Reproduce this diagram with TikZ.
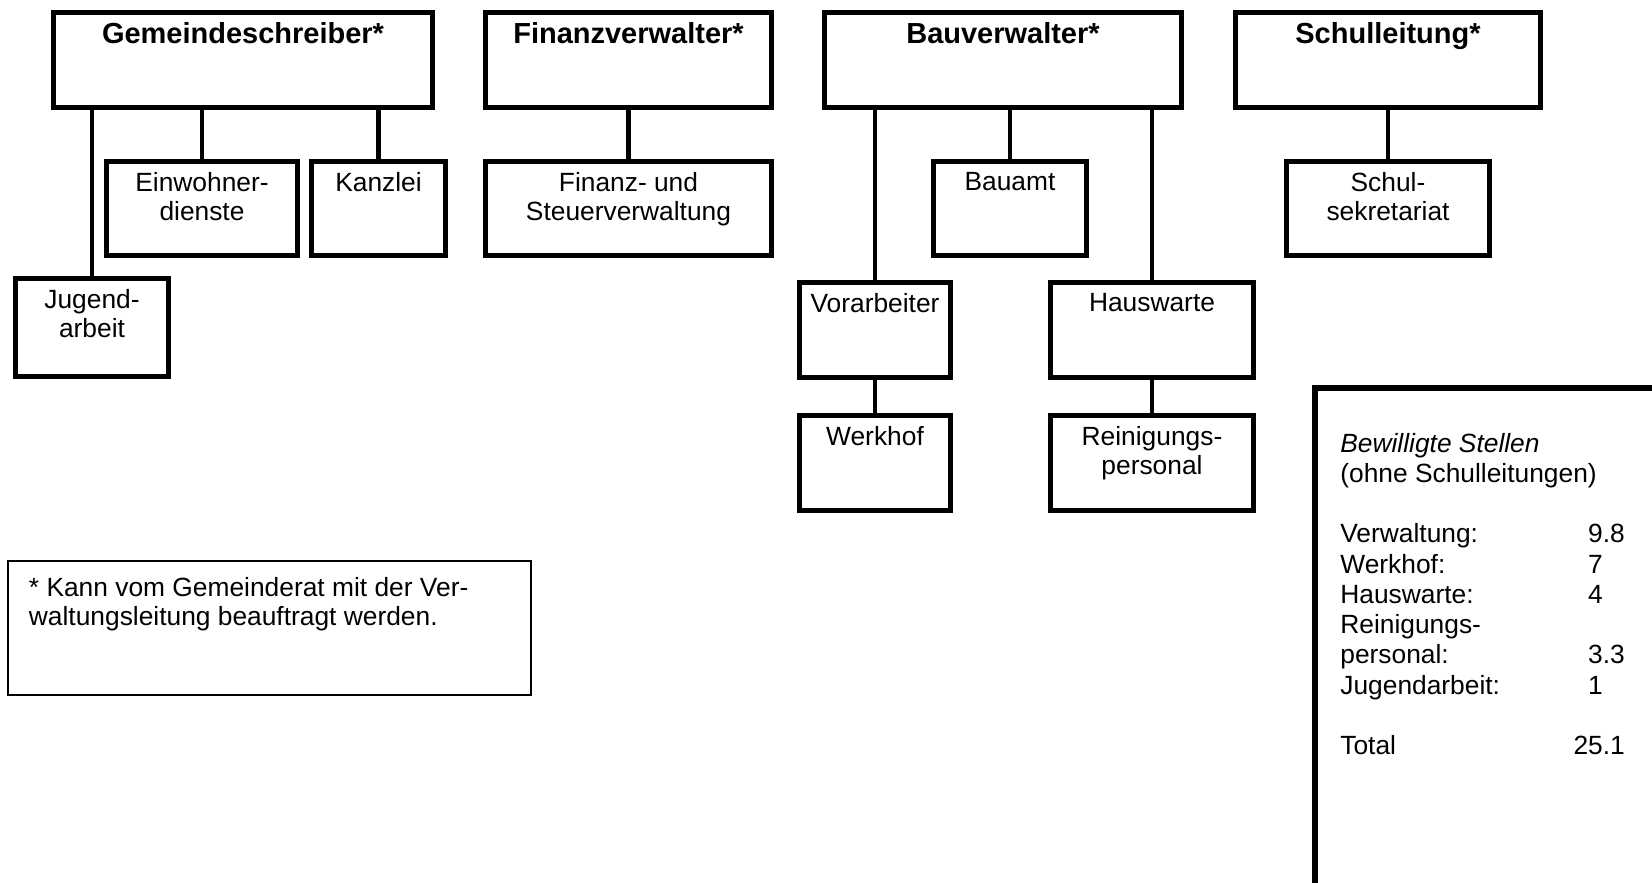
\documentclass[tikz,border=0pt]{standalone}
\usepackage{fontspec}
\setmainfont{Liberation Sans}
\usepackage{tikz}
\newcommand{\boxfont}{\fontsize{15pt}{16.5pt}\selectfont}
\newcommand{\headfont}{\fontsize{16.5pt}{19pt}\selectfont\bfseries}
\newcommand{\listfont}{\fontsize{15pt}{17.2pt}\selectfont}
\newcommand{\lw}{2.8pt}

\begin{document}
\begin{tikzpicture}[x=0.02cm, y=-0.02cm,
  orgbox/.style 2 args={draw, line width=\lw, rectangle, anchor=north west,
    inner sep=0pt, minimum width={#1*0.02cm-\lw}, minimum height={#2*0.02cm-\lw}},
  head/.style={label={[anchor=north, inner sep=0pt, font=\headfont,
    yshift=-0.236cm]north:#1}},
  unit/.style={label={[anchor=north, align=center, inner sep=0pt, font=\boxfont,
    yshift=-0.266cm]north:#1}},
  link/.style={line width=\lw}]
\useasboundingbox (0,0) rectangle (1652,882);
\fill[white] (0,0) rectangle (1652,882);
\clip (0,0) rectangle (1652,882);

% --- Top row: heads ---
\node[orgbox={384}{100}, head=Gemeindeschreiber*] (gs) at (51,10) {};
\node[orgbox={291}{100}, head=Finanzverwalter*] (fv) at (483,10) {};
\node[orgbox={362}{100}, head=Bauverwalter*] (bv) at (822,10) {};
\node[orgbox={310}{100}, head=Schulleitung*] (sl) at (1233,10) {};

% --- Second row ---
\node[orgbox={196}{99}, unit={Einwohner-\\dienste}] (ew) at (104,159) {};
\node[orgbox={139}{99}, unit=Kanzlei] (kz) at (309,159) {};
\node[orgbox={291}{99}, unit={Finanz- und\\Steuerverwaltung}] (fs) at (483,159) {};
\node[orgbox={158}{99}, unit=Bauamt] (ba) at (931,159) {};
\node[orgbox={208}{99}, unit={Schul-\\sekretariat}] (ss) at (1284,159) {};

% --- Lower rows ---
\node[orgbox={158}{103}, unit={Jugend-\\arbeit}] (ju) at (13,276) {};
\node[orgbox={156}{100}, unit=Vorarbeiter] (va) at (797,280) {};
\node[orgbox={208}{100}, unit=Hauswarte] (hw) at (1048,280) {};
\node[orgbox={156}{100}, unit=Werkhof] (wh) at (797,413) {};
\node[orgbox={208}{100}, unit={Reinigungs-\\personal}] (rp) at (1048,413) {};

% Connectors
\draw[link] (gs.south -| ju.north) -- (ju.north);
\draw[link] (gs.south -| ew.north) -- (ew.north);
\draw[link] (gs.south -| kz.north) -- (kz.north);
\draw[link] (fv.south -| fs.north) -- (fs.north);
\draw[link] (bv.south -| va.north) -- (va.north);
\draw[link] (bv.south -| ba.north) -- (ba.north);
\draw[link] (bv.south -| hw.north) -- (hw.north);
\draw[link] (sl.south -| ss.north) -- (ss.north);
\draw[link] (va.south) -- (wh.north);
\draw[link] (hw.south) -- (rp.north);

% --- Footnote ---
\node[draw, line width=0.9pt, anchor=north west, inner sep=0pt,
  minimum width={525*0.02cm-0.9pt}, minimum height={136*0.02cm-0.9pt}]
  (fn) at (7,560) {};
\node[anchor=north west, align=left, inner sep=0pt, font=\boxfont]
  (fntxt) at ([xshift=0.432cm, yshift=-0.348cm]fn.north west)
  {* Kann vom Gemeinderat mit der Ver-\\waltungsleitung beauftragt werden.};

% --- Approved positions (box runs off the page) ---
\node[orgbox={420}{560}, line width=3.2pt] (st) at (1312,385) {};
\node[anchor=north west, inner sep=0pt, font=\listfont]
  (sttxt) at ([xshift=0.56cm, yshift=-0.916cm]st.north west)
  {\begin{tabular}{@{}p{4.664cm}@{}r@{}l@{}}
    \multicolumn{3}{@{}l@{}}{\itshape Bewilligte Stellen}\\
    \multicolumn{3}{@{}l@{}}{(ohne Schulleitungen)}\\[17.2pt]
    Verwaltung: & 9 & .8\\
    Werkhof: & 7 & \\
    Hauswarte: & 4 & \\
    Reinigungs- & & \\
    personal: & 3 & .3\\
    Jugendarbeit: & 1 & \\[17.2pt]
    Total & 25 & .1
  \end{tabular}};

\end{tikzpicture}
\end{document}
